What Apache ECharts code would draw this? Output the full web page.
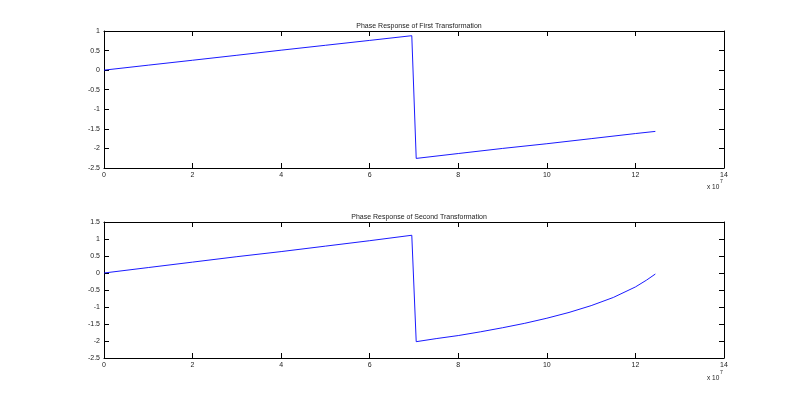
<!DOCTYPE html>
<html>
<head>
<meta charset="utf-8">
<script src="https://cdn.jsdelivr.net/npm/echarts@6/dist/echarts.min.js"></script>
<style>html,body{margin:0;padding:0;background:#fff;}#c{width:800px;height:403px;}</style>
</head>
<body>
<div id="c"></div>
<script>
// x values in units of 10^7
var xTop = [0, 1, 2, 3, 4, 5, 6, 6.95, 7.05, 8, 9, 10, 11, 12, 12.45];
var yTop = [0, 0.127, 0.253, 0.38, 0.51, 0.635, 0.76, 0.88, -2.255, -2.13, -2.0, -1.88, -1.75, -1.62, -1.565];
var xBot = [0, 1, 2, 3, 4, 5, 6, 6.95, 7.05, 7.5, 8, 8.5, 9, 9.5, 10, 10.5, 11, 11.5, 12, 12.25, 12.45];
var yBot = [0, 0.16, 0.32, 0.48, 0.63, 0.79, 0.95, 1.11, -2.02, -1.93, -1.84, -1.73, -1.61, -1.48, -1.33, -1.16, -0.96, -0.72, -0.41, -0.21, -0.03];
var titles = ['Phase Response of First Transformation', 'Phase Response of Second Transformation'];
var xTicks = {min: 0, max: 14, interval: 2};
var yTicksTop = {min: -2.5, max: 1, interval: 0.5};
var yTicksBot = {min: -2.5, max: 1.5, interval: 0.5};

var FONT = 'Liberation Sans, Arial, sans-serif';
var TXT = '#222';
function pairs(xs, ys) { return xs.map(function (x, i) { return [x, ys[i]]; }); }
function xAx(g, pos, show) {
  return {type: 'value', gridIndex: g, position: pos, min: xTicks.min, max: xTicks.max, interval: xTicks.interval,
    axisLine: {show: true, onZero: false, lineStyle: {color: '#000', width: 1}},
    axisTick: {show: true, inside: true, length: 5, lineStyle: {color: '#000'}},
    axisLabel: {show: show, color: TXT, fontSize: 7, fontFamily: FONT, margin: 4},
    splitLine: {show: false}};
}
function yAx(g, pos, t, show) {
  return {type: 'value', gridIndex: g, position: pos, min: t.min, max: t.max, interval: t.interval,
    axisLine: {show: true, onZero: false, lineStyle: {color: '#000', width: 1}},
    axisTick: {show: true, inside: true, length: 5, lineStyle: {color: '#000'}},
    axisLabel: {show: show, color: TXT, fontSize: 7, fontFamily: FONT, margin: 4},
    splitLine: {show: false}};
}
var chart = echarts.init(document.getElementById('c'), null, {renderer: 'canvas'});
chart.setOption({
  animation: false,
  backgroundColor: '#fff',
  title: [
    {text: titles[0], left: 414, top: 18, textAlign: 'center', textStyle: {fontSize: 7, fontWeight: 'normal', color: TXT, fontFamily: FONT}},
    {text: titles[1], left: 414, top: 209, textAlign: 'center', textStyle: {fontSize: 7, fontWeight: 'normal', color: TXT, fontFamily: FONT}}
  ],
  graphic: [
    {type: 'text', left: 707, top: 184, style: {text: 'x 10', fontSize: 6.5, fontFamily: FONT, fill: TXT}},
    {type: 'text', left: 720, top: 179, style: {text: '7', fontSize: 5, fontFamily: FONT, fill: TXT}},
    {type: 'text', left: 707, top: 375, style: {text: 'x 10', fontSize: 6.5, fontFamily: FONT, fill: TXT}},
    {type: 'text', left: 720, top: 370, style: {text: '7', fontSize: 5, fontFamily: FONT, fill: TXT}}
  ],
  grid: [
    {left: 104, top: 31, width: 620, height: 137},
    {left: 104, top: 222, width: 620, height: 136}
  ],
  xAxis: [xAx(0, 'bottom', true), xAx(0, 'top', false), xAx(1, 'bottom', true), xAx(1, 'top', false)],
  yAxis: [yAx(0, 'left', yTicksTop, true), yAx(0, 'right', yTicksTop, false), yAx(1, 'left', yTicksBot, true), yAx(1, 'right', yTicksBot, false)],
  series: [
    {type: 'line', xAxisIndex: 0, yAxisIndex: 0, data: pairs(xTop, yTop), showSymbol: false, lineStyle: {color: '#0000ff', width: 0.9}},
    {type: 'line', xAxisIndex: 2, yAxisIndex: 2, data: pairs(xBot, yBot), showSymbol: false, lineStyle: {color: '#0000ff', width: 0.9}}
  ]
});
</script>
</body>
</html>
